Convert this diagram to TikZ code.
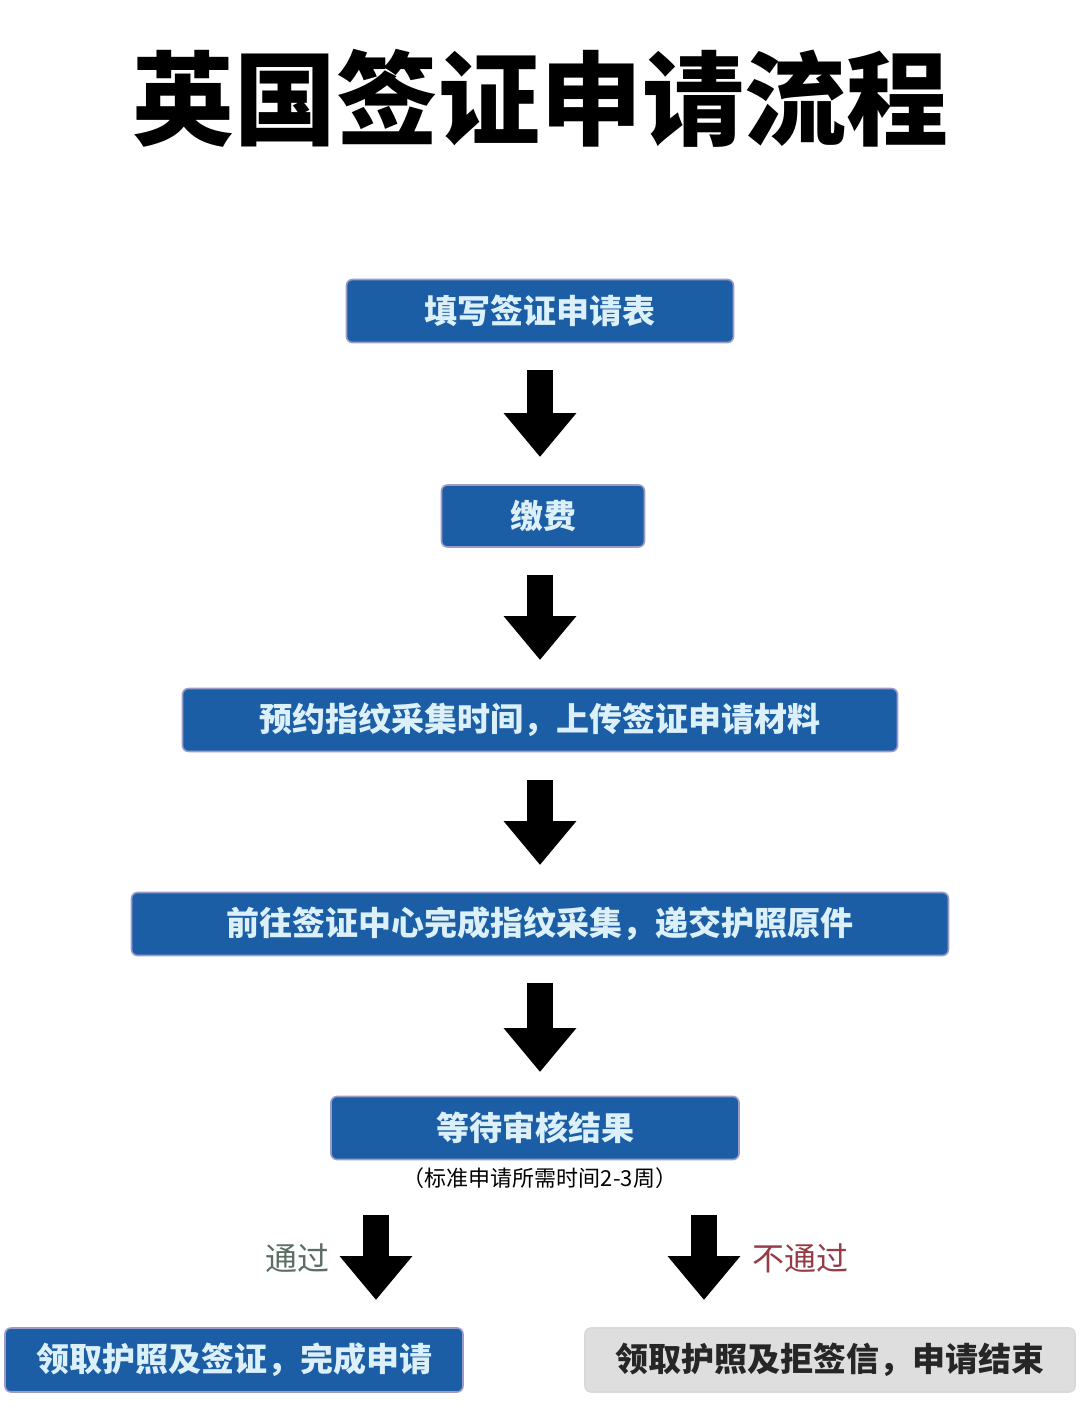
\documentclass[tikz,border=0pt]{standalone}
\usepackage{fontspec}
\setmainfont{Noto Sans CJK SC}
\usetikzlibrary{arrows.meta}
\begin{document}
\begin{tikzpicture}[x=0.5pt,y=-0.5pt,
  bx/.style={draw=blue!30!gray!60, line width=0.8pt, fill={rgb,255:red,28;green,94;blue,166}, rounded corners=3pt, text={rgb,255:red,220;green,240;blue,250}, font=\bfseries\fontsize{16.5}{18}\selectfont, inner sep=0pt, anchor=center},
  gbx/.style={bx, fill={rgb,255:red,222;green,222;blue,222}, draw=gray!30, text=black!85},
  blk/.style={line width=13pt, -{Triangle[width=35pt,length=22pt]}, black},
  lbl/.style={font=\fontsize{16}{18}\selectfont}]
\useasboundingbox (0,0) rectangle (1080,1413);
\fill[white] (0,0) rectangle (1080,1413);
\node[font=\bfseries\fontsize{51}{55}\selectfont] (title) at (540,98) {英国签证申请流程};
\node[bx, minimum width=193.5pt, minimum height=31.5pt] (b1) at (540,311) {填写签证申请表};
\node[bx, minimum width=101.5pt, minimum height=31pt] (b2) at (543,516) {缴费};
\node[bx, minimum width=357.5pt, minimum height=31.5pt] (b3) at (540,720) {预约指纹采集时间，上传签证申请材料};
\node[bx, minimum width=408.5pt, minimum height=31.5pt] (b4) at (540,924) {前往签证中心完成指纹采集，递交护照原件};
\node[bx, minimum width=204pt, minimum height=31.5pt] (b5) at (535,1128) {等待审核结果};
\node[font=\fontsize{11}{13}\selectfont] (note) at (540,1178) {（标准申请所需时间2-3周）};
\node[bx, minimum width=229pt, minimum height=32pt] (b6) at (234,1360) {领取护照及签证，完成申请};
\node[gbx, minimum width=245pt, minimum height=32pt] (b7) at (830,1360) {领取护照及拒签信，申请结束};
\draw[blk, shorten <=13.5pt, shorten >=14pt] (540,343) -- (540,485);
\draw[blk, shorten <=14pt, shorten >=14pt] (540,547) -- (540,688);
\draw[blk, shorten <=14.5pt, shorten >=14pt] (540,751) -- (540,893);
\draw[blk, shorten <=13.5pt, shorten >=12.5pt] (540,956) -- (540,1097);
\coordinate (l1) at (376,1215); \coordinate (l2) at (376,1300);
\coordinate (r1) at (704,1215); \coordinate (r2) at (704,1300);
\draw[blk] (l1) -- (l2);
\draw[blk] (r1) -- (r2);
\node[lbl, text={rgb,255:red,90;green,110;blue,100}] (pass) at (297,1258) {通过};
\node[lbl, text={rgb,255:red,150;green,60;blue,70}] (fail) at (800,1258) {不通过};
\end{tikzpicture}
\end{document}
